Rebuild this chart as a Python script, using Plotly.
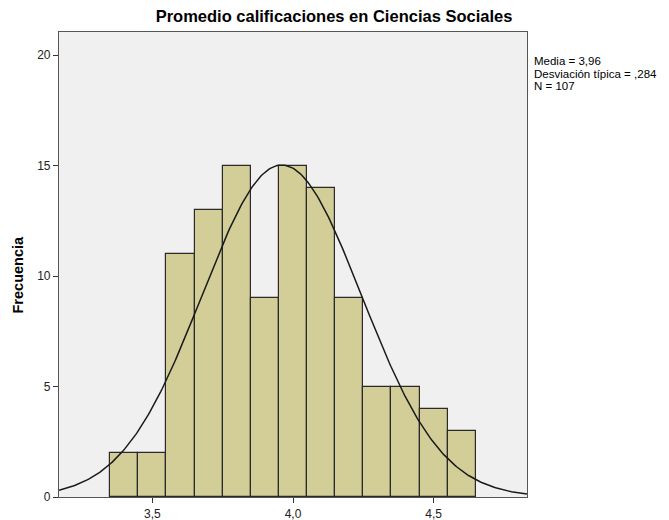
import numpy as np
import plotly.graph_objects as go

# Data
bin_centers = [3.4, 3.5, 3.6, 3.7, 3.8, 3.9, 4.0, 4.1, 4.2, 4.3, 4.4, 4.5, 4.6]
counts = [2, 2, 11, 13, 15, 9, 15, 14, 9, 5, 5, 4, 3]
bin_width = 0.1
mean_val = 3.96
sd_val = 0.284
n_val = 107
x_tickvals = [3.5, 4.0, 4.5]
x_ticktext = ["3,5", "4,0", "4,5"]
y_tickvals = [0, 5, 10, 15, 20]
title_text = "Promedio calificaciones en Ciencias Sociales"
y_title = "Frecuencia"
stats_lines = ["Media = 3,96", "Desviación típica = ,284", "N = 107"]

x_range = [3.168, 4.832]
y_range = [0, 21.05]

# fitted normal curve from the stated statistics
xc = np.linspace(x_range[0], x_range[1], 300)
yc = n_val * bin_width / (sd_val * np.sqrt(2 * np.pi)) * np.exp(-0.5 * ((xc - mean_val) / sd_val) ** 2)

fig = go.Figure()
fig.add_trace(go.Bar(
    x=bin_centers, y=counts, width=bin_width,
    marker=dict(color="#d3ce98", line=dict(color="#2a2a2a", width=1.2)),
    hoverinfo="x+y",
))
fig.add_trace(go.Scatter(
    x=xc, y=yc, mode="lines",
    line=dict(color="#1a1a1a", width=1.5),
    hoverinfo="skip",
))

PW = 669 - 59 - 142
PH = 497 - 32

fig.update_layout(
    width=669, height=520,
    margin=dict(l=59, r=142, t=32, b=23),
    paper_bgcolor="white",
    plot_bgcolor="#f0f0f0",
    showlegend=False,
    bargap=0,
    font=dict(family="Liberation Sans, Arial, sans-serif", color="#000000"),
    title=dict(
        text="<b>" + title_text + "</b>",
        x=(334 - 59) / PW, xanchor="center", xref="paper",
        y=1 - 16 / 520, yanchor="middle", yref="container",
        font=dict(size=16.5, family="Liberation Sans, Arial, sans-serif", color="#000"),
    ),
)

fig.update_xaxes(
    range=x_range, tickvals=x_tickvals, ticktext=x_ticktext,
    ticks="outside", ticklen=5, tickcolor="#333", tickwidth=1,
    showline=True, linecolor="#555", linewidth=1.2, mirror=True,
    showgrid=False, zeroline=False, automargin=False,
    tickfont=dict(size=12, color="#222"),
)
fig.update_yaxes(
    range=y_range, tickvals=y_tickvals,
    ticks="outside", ticklen=5, tickcolor="#333", tickwidth=1,
    showline=True, linecolor="#555", linewidth=1.2, mirror=True,
    showgrid=False, zeroline=False, automargin=False,
    tickfont=dict(size=12, color="#222"),
)

fig.add_annotation(
    text="<b>" + y_title + "</b>", textangle=-90,
    xref="paper", yref="paper",
    x=(17.5 - 59) / PW, y=(497 - 275) / PH,
    xanchor="center", yanchor="middle", showarrow=False,
    font=dict(size=14.5, color="#000"),
)

for i, line in enumerate(stats_lines):
    fig.add_annotation(
        text=line,
        xref="paper", yref="paper",
        x=(533 - 59) / PW, y=(497 - (61 + 12.5 * i)) / PH,
        xanchor="left", yanchor="middle", align="left", showarrow=False,
        font=dict(size=11.5, color="#000"),
        borderpad=0,
    )

fig.write_html(
    "out.html",
    config={"displayModeBar": False},
    post_script="document.body.style.margin='0px';document.body.style.overflow='hidden';",
)
